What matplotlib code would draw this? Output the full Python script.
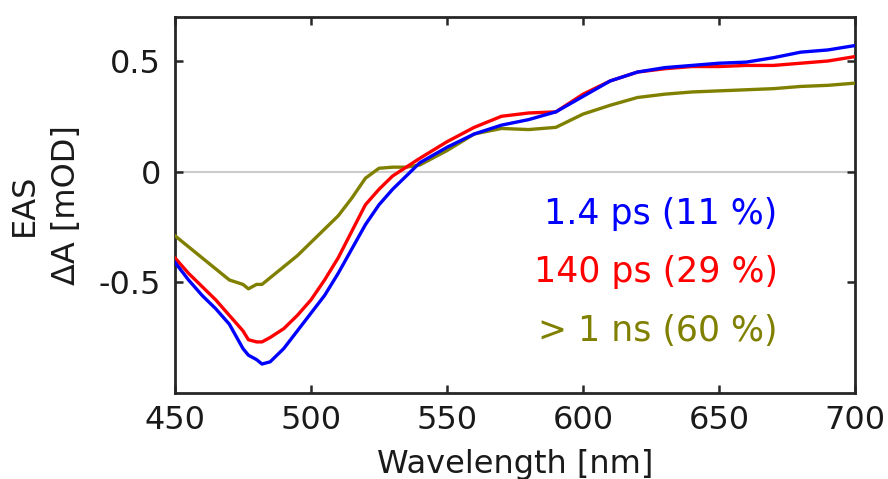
import matplotlib
matplotlib.use("Agg")
import matplotlib.pyplot as plt

wl = [450, 455, 460, 465, 470, 475, 477, 480, 482, 485, 490, 495, 500, 505, 510, 515, 520, 525, 530, 535, 540,
      550, 560, 570, 580, 590, 600, 610, 620, 630, 640, 650, 660, 670, 680, 690, 700]
blue = [-0.41, -0.49, -0.56, -0.62, -0.69, -0.80, -0.83, -0.85, -0.87, -0.86, -0.80, -0.72, -0.64, -0.56, -0.46,
        -0.35, -0.24, -0.15, -0.08, -0.02, 0.04, 0.11, 0.17, 0.21,
        0.235, 0.27, 0.34, 0.41, 0.45, 0.47, 0.48, 0.49, 0.495, 0.515, 0.54, 0.55, 0.57]
red = [-0.39, -0.46, -0.52, -0.58, -0.65, -0.72, -0.76, -0.77, -0.77, -0.75, -0.71, -0.65, -0.58, -0.49, -0.39,
       -0.27, -0.15, -0.08, -0.02, 0.02, 0.06, 0.135, 0.20, 0.25,
       0.265, 0.27, 0.35, 0.41, 0.45, 0.465, 0.475, 0.475, 0.48, 0.48, 0.49, 0.50, 0.52]
olive = [-0.29, -0.34, -0.39, -0.44, -0.49, -0.51, -0.53, -0.51, -0.51, -0.48, -0.43, -0.38, -0.32, -0.26, -0.20,
         -0.12, -0.03, 0.015, 0.02, 0.02, 0.03, 0.095, 0.17, 0.195,
         0.19, 0.20, 0.26, 0.30, 0.335, 0.35, 0.36, 0.365, 0.37, 0.375, 0.385, 0.39, 0.40]

labels = ["1.4 ps (11 %)", "140 ps (29 %)", "> 1 ns (60 %)"]
colors = ["#0000ff", "#ff0000", "#808000"]
label_y = [-0.19, -0.455, -0.72]
xticks = [450, 500, 550, 600, 650, 700]
yticks = [-0.5, 0, 0.5]
yticklabels = ["-0.5", "0", "0.5"]

plt.rcParams['font.family'] = ['DejaVu Sans']
fig = plt.figure(figsize=(8.88, 4.79), dpi=100)
ax = fig.add_axes([0.197, 0.180, 0.766, 0.785])

ax.axhline(0, color="#cccccc", lw=1.5, zorder=1)
for ys, c in zip([olive, red, blue], [colors[2], colors[1], colors[0]]):
    ax.plot(wl, ys, color=c, lw=2.4, zorder=3)

ax.set_xlim(450, 700)
ax.set_ylim(-1.0, 0.7)
ax.set_xticks(xticks)
ax.set_yticks(yticks)
ax.set_yticklabels(yticklabels)
ax.tick_params(direction="in", top=True, right=True, length=6, width=1.8, color="#262626",
               labelsize=23, labelcolor="#1a1a1a")
ax.tick_params(axis="x", pad=9)
ax.tick_params(axis="y", pad=10)
for s in ax.spines.values():
    s.set_linewidth(2)
    s.set_color("#262626")

ax.set_xlabel("Wavelength [nm]", fontsize=23, color="#1a1a1a", labelpad=9)
ax.set_ylabel("EAS\nΔA [mOD]", fontsize=23, color="#1a1a1a", labelpad=12, linespacing=1.45)

for lab, c, yv in zip(labels, colors, label_y):
    ax.text(0.886, yv, lab, color=c, fontsize=25, ha="right", va="center",
            transform=ax.get_yaxis_transform())

fig.savefig("out.png", dpi=100)
